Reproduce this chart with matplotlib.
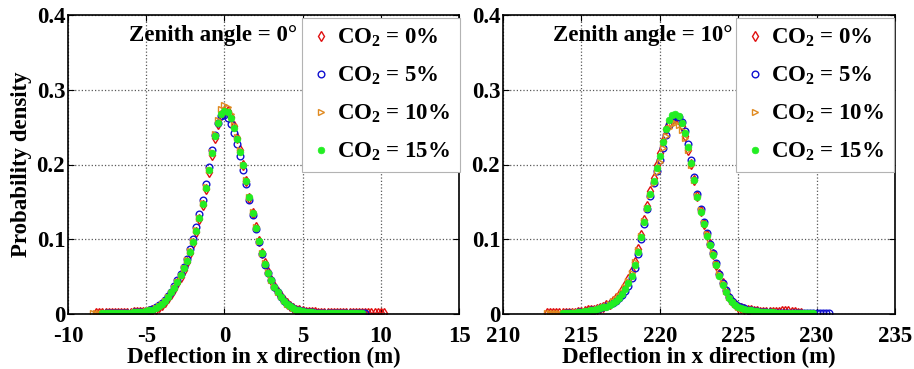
import numpy as np
import matplotlib
matplotlib.use("Agg")
import matplotlib.pyplot as plt

nan = float("nan")

# ---- left panel: zenith angle = 0 deg ----
x_left = [-8.4, -8.2, -8.0, -7.8, -7.6, -7.4, -7.2, -7.0, -6.8, -6.6, -6.4, -6.2, -6.0, -5.8, -5.6, -5.4, -5.2,
          -5.0, -4.8, -4.6, -4.4, -4.2, -4.0, -3.8, -3.6, -3.4, -3.2, -3.0, -2.8, -2.6, -2.4, -2.2, -2.0, -1.8,
          -1.6, -1.4, -1.2, -1.0, -0.8, -0.6, -0.4, -0.2,
          0.0, 0.2, 0.4, 0.6, 0.8, 1.0, 1.2, 1.4, 1.6, 1.8, 2.0, 2.2, 2.4, 2.6, 2.8, 3.0, 3.2, 3.4, 3.6, 3.8,
          4.0, 4.2, 4.4, 4.6, 4.8, 5.0, 5.2,
          5.4, 5.6, 5.8, 6.0, 6.2, 6.4, 6.6, 6.8, 7.0, 7.2, 7.4, 7.6, 7.8, 8.0, 8.2, 8.4, 8.6, 8.8, 9.0, 9.2,
          9.4, 9.6, 9.8, 10.0, 10.2]

left_co2_0 = [nan, 0.002, 0.002, 0.002, 0.002, 0.002, 0.002, 0.002, 0.002, 0.002, 0.002, 0.002, 0.002, 0.003, 0.003, 0.003, 0.003,
              0.003, 0.004, 0.005, 0.007, 0.009, 0.012, 0.016, 0.021, 0.027, 0.033, 0.041, 0.050, 0.059, 0.070, 0.082, 0.095, 0.110,
              0.127, 0.146, 0.167, 0.190, 0.213, 0.236, 0.254, 0.266,
              0.272, 0.271, 0.263, 0.251, 0.236, 0.219, 0.200, 0.178, 0.155, 0.135, 0.116, 0.098, 0.082, 0.068, 0.056, 0.046, 0.037,
              0.030, 0.024, 0.019, 0.015, 0.011, 0.008, 0.006, 0.005, 0.004, 0.003,
              0.003, 0.003, 0.003, 0.002, 0.002, 0.002, 0.002, 0.002, 0.002, 0.002, 0.002, 0.002, 0.002, 0.002, 0.002, 0.002,
              0.002, 0.002, 0.002, 0.002, 0.002, 0.002, 0.001, 0.001, 0.001]
left_co2_5 = [nan, nan, nan, nan, 0.002, 0.002, 0.002, 0.002, 0.002, 0.002, 0.002, 0.002, 0.002, 0.003, 0.003, 0.003, 0.003,
              0.004, 0.005, 0.007, 0.009, 0.012, 0.015, 0.019, 0.024, 0.030, 0.037, 0.045, 0.054, 0.063, 0.074, 0.087, 0.101, 0.116,
              0.134, 0.153, 0.174, 0.197, 0.219, 0.240, 0.256, 0.265,
              0.266, 0.262, 0.254, 0.242, 0.227, 0.211, 0.193, 0.174, 0.153, 0.133, 0.114, 0.096, 0.080, 0.066, 0.055, 0.045, 0.036,
              0.029, 0.023, 0.018, 0.014, 0.011, 0.008, 0.006, 0.005, 0.004, 0.003,
              0.003, 0.003, 0.002, 0.002, 0.002, 0.002, 0.002, 0.002, 0.002, 0.002, 0.002, 0.002, 0.002, 0.002, 0.002, 0.002,
              0.002, 0.001, 0.001, nan, nan, nan, nan, nan, nan]
left_co2_10 = [0.002, 0.002, 0.002, 0.002, 0.002, 0.002, 0.002, 0.002, 0.002, 0.002, 0.002, 0.002, 0.002, 0.003, 0.003, 0.003, 0.003,
               0.004, 0.005, 0.006, 0.008, 0.011, 0.014, 0.018, 0.023, 0.028, 0.035, 0.043, 0.051, 0.061, 0.072, 0.084, 0.097, 0.112,
               0.129, 0.148, 0.170, 0.193, 0.217, 0.241, 0.260, 0.274,
               0.279, 0.277, 0.267, 0.253, 0.237, 0.219, 0.199, 0.179, 0.157, 0.136, 0.116, 0.098, 0.082, 0.068, 0.056, 0.046, 0.037,
               0.030, 0.024, 0.019, 0.014, 0.011, 0.008, 0.006, 0.005, 0.004, 0.003,
               0.003, 0.003, 0.002, 0.002, 0.002, 0.002, 0.002, 0.002, 0.002, 0.002, 0.002, 0.002, 0.002, 0.002, 0.002, 0.001,
               0.001, nan, nan, nan, nan, nan, nan, nan, nan]
left_co2_15 = [nan, nan, nan, 0.002, 0.002, 0.002, 0.002, 0.002, 0.002, 0.002, 0.002, 0.002, 0.002, 0.003, 0.003, 0.003, 0.003,
               0.004, 0.005, 0.006, 0.008, 0.011, 0.014, 0.018, 0.023, 0.029, 0.035, 0.043, 0.052, 0.061, 0.071, 0.083, 0.096, 0.111,
               0.128, 0.147, 0.168, 0.192, 0.215, 0.238, 0.256, 0.268,
               0.272, 0.270, 0.262, 0.249, 0.234, 0.217, 0.199, 0.178, 0.156, 0.135, 0.115, 0.097, 0.081, 0.067, 0.055, 0.045, 0.036,
               0.029, 0.023, 0.018, 0.014, 0.011, 0.008, 0.006, 0.005, 0.004, 0.003,
               0.003, 0.003, 0.002, 0.002, 0.002, 0.002, 0.002, 0.002, 0.002, 0.002, 0.002, 0.002, 0.002, 0.002, 0.002, 0.002,
               0.001, 0.001, nan, nan, nan, nan, nan, nan, nan]

# ---- right panel: zenith angle = 10 deg ----
x_right = [212.6, 212.8, 213.0, 213.2, 213.4, 213.6, 213.8, 214.0, 214.2, 214.4, 214.6, 214.8,
           215.0, 215.2, 215.4, 215.6, 215.8, 216.0, 216.2, 216.4, 216.6, 216.8, 217.0, 217.2, 217.4, 217.6, 217.8,
           218.0, 218.2, 218.4, 218.6, 218.8, 219.0, 219.2, 219.4, 219.6, 219.8,
           220.0, 220.2, 220.4, 220.6, 220.8, 221.0, 221.2, 221.4, 221.6, 221.8, 222.0, 222.2, 222.4, 222.6, 222.8,
           223.0, 223.2, 223.4, 223.6, 223.8, 224.0, 224.2, 224.4, 224.6, 224.8, 225.0, 225.2, 225.4, 225.6, 225.8, 226.0,
           226.2, 226.4, 226.6, 226.8, 227.0, 227.2, 227.4, 227.6, 227.8, 228.0, 228.2, 228.4, 228.6, 228.8, 229.0,
           229.2, 229.4, 229.6, 229.8, 230.0, 230.2, 230.4, 230.6, 230.8, 231.0]

right_co2_0 = [nan, 0.001, 0.001, 0.001, 0.002, 0.002, 0.002, 0.002, 0.002, 0.002, 0.002, 0.003,
               0.003, 0.004, 0.005, 0.005, 0.006, 0.007, 0.008, 0.010, 0.012, 0.014, 0.017, 0.021, 0.026, 0.032, 0.039,
               0.047, 0.057, 0.070, 0.087, 0.106, 0.126, 0.145, 0.164, 0.182, 0.199,
               0.215, 0.232, 0.247, 0.256, 0.260, 0.262, 0.259, 0.251, 0.238, 0.220, 0.201, 0.179, 0.158, 0.138, 0.121,
               0.106, 0.093, 0.080, 0.066, 0.053, 0.041, 0.031, 0.023, 0.017, 0.013, 0.010, 0.008, 0.007, 0.006, 0.005, 0.004,
               0.004, 0.003, 0.003, 0.003, 0.003, 0.003, 0.003, 0.003, 0.004, 0.004, 0.004, 0.003, 0.003, 0.002, 0.002,
               nan, nan, nan, nan, nan, nan, nan, nan, nan, nan]
right_co2_5 = [nan, nan, nan, nan, nan, nan, nan, 0.002, 0.002, 0.002, 0.002, 0.003,
               0.003, 0.003, 0.004, 0.005, 0.006, 0.007, 0.008, 0.009, 0.011, 0.013, 0.015, 0.018, 0.022, 0.026, 0.031,
               0.038, 0.048, 0.062, 0.080, 0.100, 0.121, 0.140, 0.158, 0.175, 0.191,
               0.206, 0.222, 0.240, 0.253, 0.261, 0.265, 0.264, 0.257, 0.245, 0.227, 0.206, 0.183, 0.161, 0.141, 0.123,
               0.108, 0.094, 0.081, 0.068, 0.054, 0.042, 0.032, 0.023, 0.017, 0.013, 0.011, 0.009, 0.008, 0.006, 0.005, 0.004,
               0.004, 0.003, 0.003, 0.003, 0.003, 0.002, 0.002, 0.002, 0.002, 0.002, 0.002, 0.002, 0.002, 0.002, 0.001,
               0.001, 0.001, 0.001, 0.001, 0.001, 0.001, 0.001, 0.001, 0.001, nan]
right_co2_10 = [nan, 0.001, 0.001, 0.001, 0.002, 0.002, 0.002, 0.002, 0.002, 0.002, 0.003, 0.003,
                0.003, 0.004, 0.004, 0.005, 0.006, 0.007, 0.008, 0.010, 0.011, 0.014, 0.017, 0.020, 0.024, 0.030, 0.036,
                0.044, 0.055, 0.069, 0.086, 0.105, 0.124, 0.142, 0.159, 0.175, 0.190,
                0.204, 0.222, 0.238, 0.249, 0.255, 0.256, 0.253, 0.246, 0.235, 0.219, 0.200, 0.179, 0.158, 0.139, 0.122,
                0.107, 0.094, 0.081, 0.067, 0.054, 0.042, 0.031, 0.023, 0.017, 0.013, 0.010, 0.008, 0.007, 0.006, 0.005, 0.004,
                0.003, 0.003, 0.003, 0.002, 0.002, 0.002, 0.002, 0.002, 0.002, 0.002, 0.002, 0.002, 0.001, nan, nan,
                nan, nan, nan, nan, nan, nan, nan, nan, nan, nan]
right_co2_15 = [nan, nan, nan, nan, nan, nan, 0.002, 0.002, 0.002, 0.002, 0.002, 0.003,
                0.003, 0.004, 0.004, 0.005, 0.006, 0.007, 0.008, 0.009, 0.010, 0.012, 0.015, 0.018, 0.022, 0.027, 0.033,
                0.041, 0.051, 0.065, 0.083, 0.103, 0.123, 0.142, 0.161, 0.178, 0.195,
                0.211, 0.230, 0.247, 0.259, 0.266, 0.268, 0.265, 0.256, 0.242, 0.223, 0.202, 0.179, 0.157, 0.137, 0.120,
                0.105, 0.092, 0.079, 0.065, 0.051, 0.039, 0.029, 0.021, 0.016, 0.012, 0.010, 0.008, 0.007, 0.006, 0.005, 0.004,
                0.004, 0.003, 0.003, 0.003, 0.003, 0.003, 0.002, 0.002, 0.002, 0.002, 0.002, 0.002, 0.002, 0.002, 0.001,
                0.001, 0.001, 0.001, 0.001, nan, nan, nan, nan, nan, nan]

labels = [r"CO$_\mathbf{2}$ = 0%", r"CO$_\mathbf{2}$ = 5%", r"CO$_\mathbf{2}$ = 10%", r"CO$_\mathbf{2}$ = 15%"]
titles = ["Zenith angle = 0\u00b0", "Zenith angle = 10\u00b0"]

plt.rcParams["font.family"] = ["Liberation Serif", "DejaVu Serif"]
plt.rcParams["font.weight"] = "bold"
plt.rcParams["axes.unicode_minus"] = False
plt.rcParams["mathtext.fontset"] = "custom"
plt.rcParams["mathtext.rm"] = "Liberation Serif:bold"
plt.rcParams["mathtext.bf"] = "Liberation Serif:bold"
plt.rcParams["mathtext.it"] = "Liberation Serif:bold"

styles = [
    dict(marker="d", color="#e01010", mfc="none", mew=1.0, ms=4.8),
    dict(marker="o", color="#1010d0", mfc="none", mew=1.0, ms=4.8),
    dict(marker=">", color="#e08a20", mfc="none", mew=1.0, ms=4.8),
    dict(marker="o", color="#22ee22", mfc="#22ee22", mew=0.5, ms=4.8),
]

fig = plt.figure(figsize=(9.14, 3.69), dpi=100)
ax1 = fig.add_axes([68 / 914, 1 - 314 / 369, 391 / 914, 299 / 369])
ax2 = fig.add_axes([503 / 914, 1 - 314 / 369, 392 / 914, 299 / 369])

panels = [
    (ax1, x_left, [left_co2_0, left_co2_5, left_co2_10, left_co2_15], (-10, 15), [-10, -5, 0, 5, 10, 15]),
    (ax2, x_right, [right_co2_0, right_co2_5, right_co2_10, right_co2_15], (210, 235), [210, 215, 220, 225, 230, 235]),
]

fs = 16.5
for i, (ax, xs, series, xlim, xt) in enumerate(panels):
    for ys, st, lab in zip(series, styles, labels):
        ax.plot(xs, ys, linestyle="none", label=lab, **st)
    ax.set_xlim(*xlim)
    ax.set_ylim(0, 0.4)
    ax.set_xticks(xt)
    ax.set_yticks([0, 0.1, 0.2, 0.3, 0.4])
    ax.set_yticklabels(["0", "0.1", "0.2", "0.3", "0.4"])
    ax.grid(True, linestyle=":", color="0.35", linewidth=0.9)
    ax.tick_params(direction="in", top=True, right=True, length=4, labelsize=fs)
    ax.tick_params(axis="x", pad=8.5)
    ax.tick_params(axis="y", pad=2)
    for sp in ax.spines.values():
        sp.set_linewidth(1.2)
    ax.set_xlabel("Deflection in x direction (m)", fontsize=fs, fontweight="bold", labelpad=0)
    ax.text(0.156 if i == 0 else 0.128, 0.93, titles[i], transform=ax.transAxes,
            fontsize=fs, fontweight="bold", va="center", ha="left")
    leg = ax.legend(loc="upper left", bbox_to_anchor=(0.598 if i == 0 else 0.594, 0.99), borderaxespad=0,
                    fontsize=fs, handlelength=0.9, handletextpad=0.25, labelspacing=0.68, borderpad=0.4,
                    fancybox=False, framealpha=1, edgecolor="0.7")
    leg.get_frame().set_linewidth(0.8)

ax1.set_ylabel("Probability density", fontsize=fs, fontweight="bold", labelpad=3)

fig.savefig("out.png", dpi=100)
